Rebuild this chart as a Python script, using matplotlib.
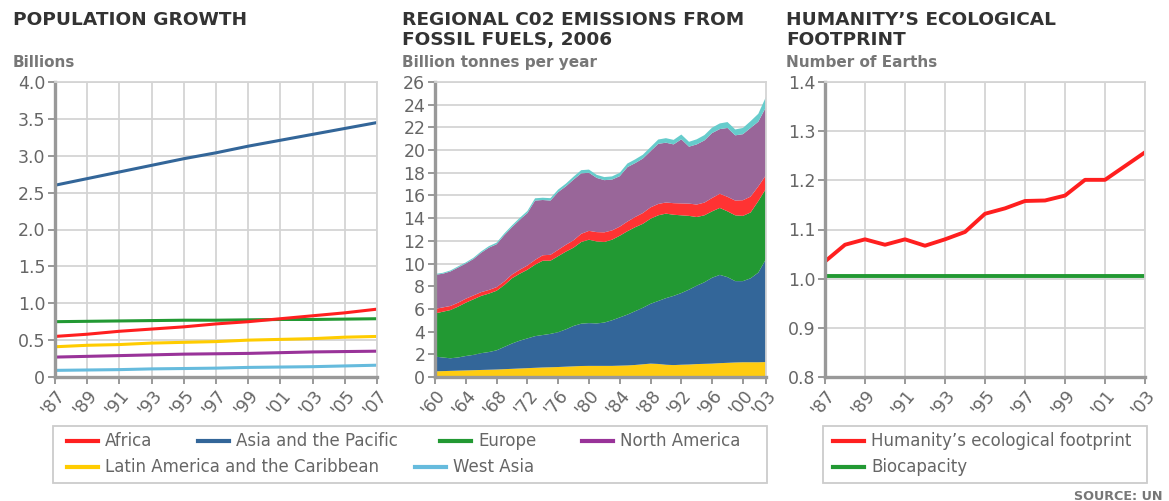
import matplotlib
matplotlib.use("Agg")
import matplotlib.pyplot as plt
from matplotlib.lines import Line2D
from matplotlib.patches import Rectangle
import numpy as np

# ---- data -------------------------------------------------------------
pop_years = [1987, 1989, 1991, 1993, 1995, 1997, 1999, 2001, 2003, 2005, 2007]
pop_africa = [0.55, 0.58, 0.62, 0.65, 0.68, 0.72, 0.75, 0.79, 0.83, 0.87, 0.92]
pop_asia = [2.60, 2.69, 2.78, 2.87, 2.96, 3.04, 3.13, 3.21, 3.29, 3.37, 3.45]
pop_europe = [0.75, 0.755, 0.76, 0.765, 0.77, 0.77, 0.775, 0.78, 0.78, 0.785, 0.79]
pop_namerica = [0.27, 0.28, 0.29, 0.30, 0.31, 0.315, 0.32, 0.33, 0.34, 0.345, 0.35]
pop_latin = [0.41, 0.43, 0.44, 0.46, 0.47, 0.48, 0.50, 0.51, 0.52, 0.54, 0.55]
pop_westasia = [0.09, 0.095, 0.10, 0.11, 0.115, 0.12, 0.13, 0.135, 0.14, 0.15, 0.16]

co2_years = list(range(1960, 2004))
co2_latin = [0.50, 0.52, 0.54, 0.56, 0.58, 0.60, 0.62, 0.64, 0.66, 0.69,
             0.72, 0.75, 0.78, 0.81, 0.84, 0.86, 0.88, 0.91, 0.94, 0.97,
             0.98, 0.98, 0.98, 0.98, 1.00, 1.02, 1.06, 1.12, 1.18, 1.15,
             1.08, 1.05, 1.08, 1.10, 1.14, 1.16, 1.18, 1.22, 1.25, 1.28,
             1.30, 1.30, 1.30, 1.32]
co2_asia = [1.30, 1.20, 1.11, 1.16, 1.27, 1.35, 1.48, 1.56, 1.69, 1.96,
            2.23, 2.45, 2.62, 2.79, 2.86, 2.94, 3.07, 3.29, 3.56, 3.73,
            3.77, 3.74, 3.82, 4.02, 4.25, 4.48, 4.74, 4.98, 5.27, 5.55,
            5.87, 6.10, 6.32, 6.60, 6.91, 7.19, 7.57, 7.78, 7.55, 7.17,
            7.15, 7.40, 7.90, 9.08]
co2_europe = [3.80, 4.03, 4.25, 4.48, 4.70, 4.90, 5.05, 5.15, 5.25, 5.45,
              5.75, 5.90, 6.05, 6.30, 6.55, 6.45, 6.70, 6.85, 6.90, 7.20,
              7.35, 7.23, 7.10, 7.10, 7.20, 7.35, 7.40, 7.40, 7.50, 7.55,
              7.45, 7.15, 6.85, 6.50, 6.05, 5.90, 5.85, 5.90, 5.80, 5.80,
              5.75, 5.80, 6.30, 6.20]
co2_africa = [0.40, 0.38, 0.36, 0.35, 0.35, 0.34, 0.33, 0.32, 0.32, 0.32,
              0.33, 0.35, 0.38, 0.42, 0.48, 0.52, 0.56, 0.60, 0.65, 0.72,
              0.78, 0.82, 0.85, 0.82, 0.80, 0.85, 0.90, 0.95, 1.00, 1.00,
              0.98, 1.02, 1.05, 1.08, 1.10, 1.12, 1.18, 1.25, 1.28, 1.30,
              1.38, 1.40, 1.30, 1.20]
co2_namerica = [3.00, 2.97, 3.04, 3.10, 3.10, 3.21, 3.47, 3.73, 3.78, 4.08,
                4.17, 4.40, 4.62, 5.23, 4.87, 4.78, 5.09, 5.15, 5.35, 5.33,
                5.12, 4.78, 4.60, 4.48, 4.45, 4.80, 4.75, 4.80, 4.95, 5.30,
                5.27, 5.18, 5.65, 5.02, 5.30, 5.48, 5.72, 5.70, 6.07, 5.75,
                5.82, 6.05, 5.70, 6.00]
co2_westasia = [0.08, 0.08, 0.09, 0.10, 0.10, 0.11, 0.12, 0.13, 0.14, 0.15,
                0.16, 0.17, 0.18, 0.20, 0.20, 0.21, 0.22, 0.24, 0.26, 0.28,
                0.28, 0.27, 0.27, 0.28, 0.30, 0.32, 0.33, 0.34, 0.36, 0.38,
                0.40, 0.40, 0.42, 0.43, 0.45, 0.47, 0.48, 0.50, 0.52, 0.52,
                0.55, 0.60, 0.70, 0.90]

eco_years = list(range(1987, 2004))
eco_footprint = [1.035, 1.069, 1.080, 1.069, 1.080, 1.067, 1.080, 1.095, 1.132,
                 1.143, 1.158, 1.159, 1.169, 1.201, 1.201, 1.229, 1.257]
eco_biocapacity = [1.005] * len(eco_years)

# ---- styles -----------------------------------------------------------
RED = '#ff1f1f'
BLUE = '#336699'
GREEN = '#229933'
PURPLE = '#993399'
YELLOW = '#ffcc00'
LBLUE = '#66bbdd'
AREA_COLORS = ['#ffcc11', '#336699', '#229933', '#ff3333', '#996699', '#66cccc']

TITLE_C = '#333333'
SUB_C = '#777777'
TICK_C = '#666666'
GRID_C = '#d4d4d4'
AXIS_C = '#999999'

W, H = 1169, 501
fig = plt.figure(figsize=(W / 100, H / 100), dpi=100)


def px_axes(x0, x1, y0, y1):
    return fig.add_axes([x0 / W, 1 - y1 / H, (x1 - x0) / W, (y1 - y0) / H])


def style_axes(ax, vgrid=True):
    ax.set_axisbelow(True)
    ax.grid(axis='y', color=GRID_C, lw=1.3)
    if vgrid:
        ax.grid(axis='x', color=GRID_C, lw=1.3)
    for s in ['left', 'bottom']:
        ax.spines[s].set_color(AXIS_C)
        ax.spines[s].set_linewidth(2.4)
    for s in ['top', 'right']:
        ax.spines[s].set_color(GRID_C)
        ax.spines[s].set_linewidth(1.3)
    ax.tick_params(colors=AXIS_C, length=5, width=1.4, labelcolor=TICK_C,
                   labelsize=12.5, pad=2)
    for lab in ax.get_xticklabels():
        lab.set_rotation(50)
        lab.set_ha('right')
        lab.set_va('top')
        lab.set_rotation_mode('anchor')


def ftext(x, y, s, **kw):
    fig.text(x / W, 1 - y / H, s, **kw)


def yr_label(y):
    return "'" + str(y)[2:]


# ---- panel 1: population ----------------------------------------------
ax1 = px_axes(55, 377, 82, 377)
ax1.plot(pop_years, pop_asia, color=BLUE, lw=2.2)
ax1.plot(pop_years, pop_europe, color=GREEN, lw=2.2)
ax1.plot(pop_years, pop_africa, color=RED, lw=2.2)
ax1.plot(pop_years, pop_latin, color=YELLOW, lw=2.2)
ax1.plot(pop_years, pop_namerica, color=PURPLE, lw=2.2)
ax1.plot(pop_years, pop_westasia, color=LBLUE, lw=2.2)
ax1.set_xlim(1987, 2007)
ax1.set_ylim(0, 4.0)
ax1.set_xticks(pop_years)
ax1.set_xticklabels([yr_label(y) for y in pop_years])
yt = np.arange(0, 4.01, 0.5)
ax1.set_yticks(yt)
ax1.set_yticklabels(['0'] + ['%.1f' % v for v in yt[1:]])
style_axes(ax1)

# ---- panel 2: CO2 emissions -------------------------------------------
ax2 = px_axes(435, 766, 82, 377)
ax2.stackplot(co2_years, co2_latin, co2_asia, co2_europe, co2_africa,
              co2_namerica, co2_westasia, colors=AREA_COLORS, lw=0)
ax2.set_xlim(1960, 2003)
ax2.set_ylim(0, 26)
xt2 = list(range(1960, 2001, 4)) + [2003]
ax2.set_xticks(xt2)
ax2.set_xticklabels([yr_label(y) for y in xt2])
ax2.set_yticks(range(0, 27, 2))
style_axes(ax2, vgrid=False)

# ---- panel 3: ecological footprint --------------------------------------
ax3 = px_axes(825, 1145, 82, 377)
ax3.plot(eco_years, eco_biocapacity, color=GREEN, lw=2.8)
ax3.plot(eco_years, eco_footprint, color=RED, lw=2.8)
ax3.set_xlim(1987, 2003)
ax3.set_ylim(0.8, 1.4)
xt3 = list(range(1987, 2004, 2))
ax3.set_xticks(xt3)
ax3.set_xticklabels([yr_label(y) for y in xt3])
yt3 = np.arange(0.8, 1.41, 0.1)
ax3.set_yticks(yt3)
ax3.set_yticklabels(['%.1f' % v for v in yt3])
style_axes(ax3)

# ---- titles -------------------------------------------------------------
tkw = dict(fontsize=13.3, fontweight='bold', color=TITLE_C, va='baseline')
skw = dict(fontsize=11, fontweight='bold', color=SUB_C, va='baseline')
ftext(13, 25, 'POPULATION GROWTH', **tkw)
ftext(13, 67, 'Billions', **skw)
ftext(402, 25, 'REGIONAL C02 EMISSIONS FROM', **tkw)
ftext(402, 45, 'FOSSIL FUELS, 2006', **tkw)
ftext(402, 67, 'Billion tonnes per year', **skw)
ftext(786, 25, 'HUMANITY\u2019S ECOLOGICAL', **tkw)
ftext(786, 45, 'FOOTPRINT', **tkw)
ftext(786, 67, 'Number of Earths', **skw)

# ---- legends ------------------------------------------------------------
def legend_box(x0, x1, y0, y1):
    fig.add_artist(Rectangle((x0 / W, 1 - y1 / H), (x1 - x0) / W, (y1 - y0) / H,
                             transform=fig.transFigure, fill=False,
                             edgecolor='#cccccc', lw=1.3))


def legend_entry(x, y, color, label):
    fig.add_artist(Line2D([x / W, (x + 31) / W], [1 - y / H, 1 - y / H],
                          transform=fig.transFigure, color=color, lw=3))
    ftext(x + 38, y, label, fontsize=12, color=TICK_C, va='center')


legend_box(53, 767, 426, 483)
legend_entry(67, 441, RED, 'Africa')
legend_entry(198, 441, BLUE, 'Asia and the Pacific')
legend_entry(440, 441, GREEN, 'Europe')
legend_entry(582, 441, PURPLE, 'North America')
legend_entry(67, 467, YELLOW, 'Latin America and the Caribbean')
legend_entry(415, 467, LBLUE, 'West Asia')

legend_box(823, 1147, 426, 483)
legend_entry(833, 441, RED, 'Humanity\u2019s ecological footprint')
legend_entry(833, 467, GREEN, 'Biocapacity')

ftext(1163, 500, 'SOURCE: UN', fontsize=9.2, fontweight='bold', color='#777777',
      ha='right', va='baseline')

fig.savefig('out.png', dpi=100)
